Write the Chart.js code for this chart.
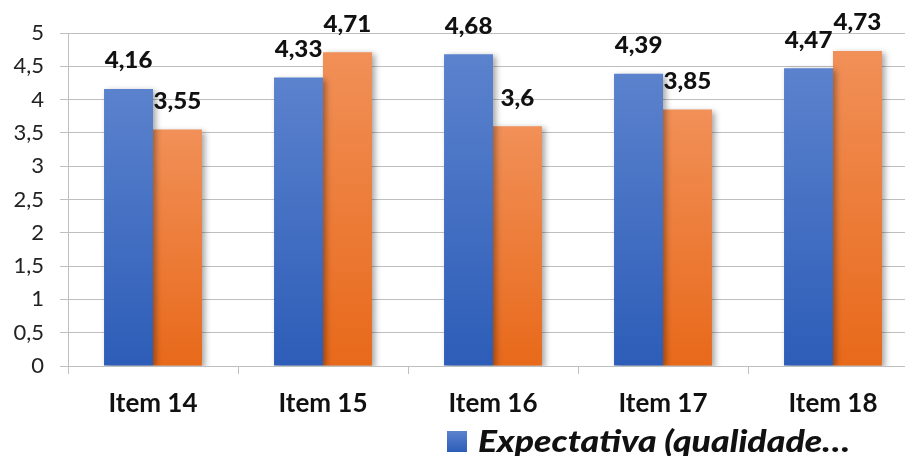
<!DOCTYPE html>
<html>
<head>
<meta charset="utf-8">
<script src="https://cdn.jsdelivr.net/npm/chart.js@4"></script>
<style>
  html, body { margin: 0; padding: 0; background: #fff; overflow: hidden; }
  #wrap { width: 920px; height: 456px; }
</style>
</head>
<body>
<div id="wrap"><canvas id="chart" width="920" height="456"></canvas></div>
<script>
const categories = ['Item 14', 'Item 15', 'Item 16', 'Item 17', 'Item 18'];
const expectativa = [4.16, 4.33, 4.68, 4.39, 4.47];
const percepcao = [3.55, 4.71, 3.6, 3.85, 4.73];
const seriesNames = ['Expectativa (qualidade…', 'Percepção (qualidade…'];

const FONT = 'Lato, Calibri, Carlito, sans-serif';
const BLUE = ['#5b82cd', '#2d5db8'];
const ORANGE = ['#f19058', '#e8691a'];

const fmt = v => String(v).replace('.', ',');

// gradient per bar, top to base
function barFill(stops) {
    return ctx => {
        const chart = ctx.chart;
        const y = chart.scales.y;
        if (!y || ctx.parsed == null) return stops[1];
        const top = y.getPixelForValue(ctx.parsed.y);
        const base = y.getPixelForValue(0);
        if (!isFinite(top) || !isFinite(base) || top === base) return stops[1];
        const g = chart.ctx.createLinearGradient(0, top, 0, base);
        g.addColorStop(0, stops[0]);
        g.addColorStop(1, stops[1]);
        return g;
    };
}

const barShadow = {
    id: 'barShadow',
    beforeDatasetsDraw(chart) {
        const c = chart.ctx;
        c.save();
        c.shadowColor = 'rgba(0,0,0,0.35)';
        c.shadowBlur = 6;
        c.shadowOffsetX = 3;
        c.shadowOffsetY = 2;
    },
    afterDatasetsDraw(chart) {
        chart.ctx.restore();
    }
};

// bold text slightly widened, like the Calibri labels of the original
function wideText(c, text, x, y, sx) {
    c.save();
    c.translate(x, y);
    c.scale(sx, 1);
    c.fillText(text, 0, 0);
    c.restore();
}

const valueLabels = {
    id: 'valueLabels',
    afterDatasetsDraw(chart) {
        const c = chart.ctx;
        c.save();
        c.font = '900 23px ' + FONT;
        c.fillStyle = '#111';
        c.textAlign = 'center';
        c.textBaseline = 'middle';
        chart.data.datasets.forEach((ds, i) => {
            chart.getDatasetMeta(i).data.forEach((bar, j) => {
                wideText(c, fmt(ds.data[j]), bar.x, bar.y - 28, 1.05);
            });
        });
        c.restore();
    }
};

// Excel legend shows only the first entry, cut at the bottom edge
const firstLegend = {
    id: 'firstLegend',
    afterDraw(chart) {
        const c = chart.ctx;
        const ds = chart.data.datasets[0];
        c.save();
        const g = c.createLinearGradient(0, 431, 0, 452);
        g.addColorStop(0, BLUE[0]);
        g.addColorStop(1, BLUE[1]);
        c.fillStyle = g;
        c.fillRect(447, 431, 20, 21);
        c.font = 'italic 900 30px ' + FONT;
        c.fillStyle = '#111';
        c.textBaseline = 'alphabetic';
        const w = c.measureText(ds.label).width;
        wideText(c, ds.label, 478, 452, 372 / w);
        c.restore();
    }
};

new Chart(document.getElementById('chart'), {
    type: 'bar',
    data: {
        labels: categories,
        datasets: [
            { label: seriesNames[0], data: expectativa, backgroundColor: barFill(BLUE) },
            { label: seriesNames[1], data: percepcao, backgroundColor: barFill(ORANGE) }
        ]
    },
    options: {
        responsive: false,
        animation: false,
        events: [],
        layout: { padding: { top: 33, right: 2, bottom: 40, left: 0 } },
        datasets: { bar: { categoryPercentage: 0.576, barPercentage: 1 } },
        plugins: { legend: { display: false }, tooltip: { enabled: false } },
        scales: {
            x: {
                grid: { drawOnChartArea: false, color: '#bfbfbf', tickLength: 8 },
                border: { color: '#bfbfbf' },
                ticks: { color: '#111', padding: 14, font: { family: FONT, size: 26, weight: 'bold' } },
                afterFit: s => { s.height = 50; }
            },
            y: {
                min: 0,
                max: 5,
                grid: { color: '#bfbfbf', tickLength: 8 },
                border: { color: '#bfbfbf' },
                ticks: {
                    stepSize: 0.5,
                    color: '#222',
                    padding: 16,
                    font: { family: FONT, size: 22 },
                    callback: v => fmt(v)
                },
                afterFit: s => { s.width = 68; }
            }
        }
    },
    plugins: [barShadow, valueLabels, firstLegend]
});
</script>
</body>
</html>
